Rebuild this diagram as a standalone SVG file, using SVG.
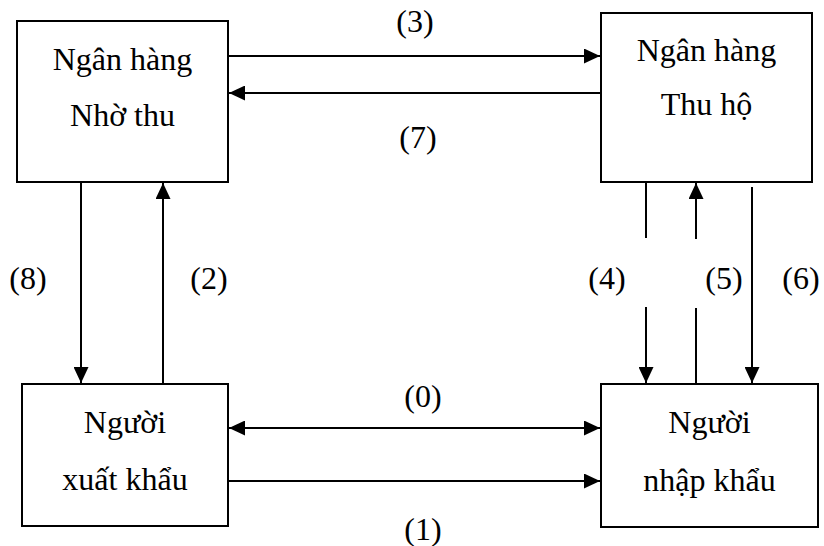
<svg xmlns="http://www.w3.org/2000/svg" width="824" height="546" viewBox="0 0 824 546">
  <style>
    .box { fill: #ffffff; stroke: #000000; stroke-width: 2; }
    .txt { font-family: "Liberation Serif", "Times New Roman", serif; font-size: 32px; fill: #000000; text-anchor: middle; }
    .link { stroke: #000000; stroke-width: 2; fill: none; }
  </style>
  <defs>
    <marker id="head" markerUnits="userSpaceOnUse" markerWidth="16" markerHeight="15" refX="16" refY="7.5" orient="auto-start-reverse">
      <path d="M0,0 L16,7.5 L0,15 z" fill="#000000"/>
    </marker>
  </defs>
  <rect width="824" height="546" fill="#ffffff"/>

  <g id="ngan-hang-nho-thu">
    <rect class="box" x="17" y="21" width="211" height="161"/>
    <text class="txt" x="122.5" y="70">Ngân hàng</text>
    <text class="txt" x="122.5" y="126">Nhờ thu</text>
  </g>

  <g id="ngan-hang-thu-ho">
    <rect class="box" x="601" y="13" width="211" height="169"/>
    <text class="txt" x="706.5" y="61">Ngân hàng</text>
    <text class="txt" x="706.5" y="115">Thu hộ</text>
  </g>

  <g id="nguoi-xuat-khau">
    <rect class="box" x="22" y="384" width="206" height="142"/>
    <text class="txt" x="125" y="433">Người</text>
    <text class="txt" x="125" y="490">xuất khẩu</text>
  </g>

  <g id="nguoi-nhap-khau">
    <rect class="box" x="601" y="384" width="217" height="143"/>
    <text class="txt" x="709.5" y="433">Người</text>
    <text class="txt" x="709.5" y="491">nhập khẩu</text>
  </g>

  <g id="connectors">
    <!-- (3) and (7) between the two banks -->
    <line class="link" x1="228" y1="56" x2="600" y2="56" marker-end="url(#head)"/>
    <line class="link" x1="601" y1="93" x2="229" y2="93" marker-end="url(#head)"/>
    <!-- (8) and (2) on the exporter side -->
    <line class="link" x1="81" y1="182" x2="81" y2="383" marker-end="url(#head)"/>
    <line class="link" x1="163" y1="384" x2="163" y2="183" marker-end="url(#head)"/>
    <!-- (0) and (1) between exporter and importer -->
    <line class="link" x1="229" y1="428" x2="600" y2="428" marker-start="url(#head)" marker-end="url(#head)"/>
    <line class="link" x1="228" y1="481" x2="600" y2="481" marker-end="url(#head)"/>
    <!-- (4) broken line down to the importer -->
    <line class="link" x1="646" y1="182" x2="646" y2="238"/>
    <line class="link" x1="646" y1="307" x2="646" y2="383" marker-end="url(#head)"/>
    <!-- (5) broken line up to the collecting bank -->
    <line class="link" x1="696" y1="384" x2="696" y2="308"/>
    <line class="link" x1="696" y1="239" x2="696" y2="183" marker-end="url(#head)"/>
    <!-- (6) -->
    <line class="link" x1="752" y1="187" x2="752" y2="383" marker-end="url(#head)"/>
  </g>

  <g id="labels">
    <text class="txt" x="415" y="32">(3)</text>
    <text class="txt" x="418" y="148">(7)</text>
    <text class="txt" x="28" y="289">(8)</text>
    <text class="txt" x="209" y="289">(2)</text>
    <text class="txt" x="607" y="289">(4)</text>
    <text class="txt" x="724" y="289">(5)</text>
    <text class="txt" x="801" y="289">(6)</text>
    <text class="txt" x="423" y="407">(0)</text>
    <text class="txt" x="423" y="540">(1)</text>
  </g>
</svg>
